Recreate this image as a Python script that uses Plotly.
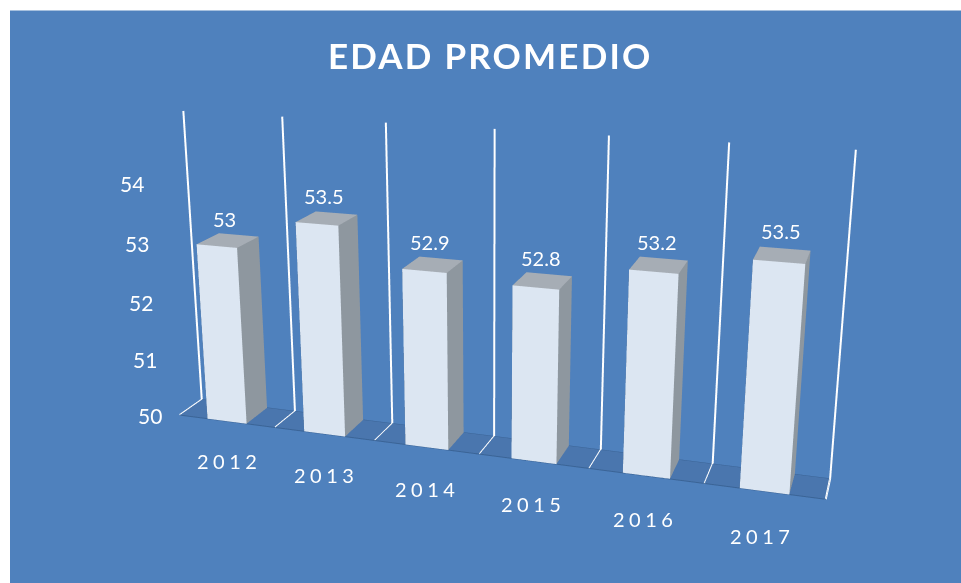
import plotly.graph_objects as go

years = ["2012", "2013", "2014", "2015", "2016", "2017"]
values = [53, 53.5, 52.9, 52.8, 53.2, 53.5]
z_ticks = [50, 51, 52, 53, 54]
Z0, Z1 = 50, 55
BG = "#4F81BD"
FRONT, SIDE, TOP, FLOOR, EDGE = "#DCE6F2", "#8E979F", "#A6ADB5", "#4A76AE", "#3A6496"

# big canvas: the window only shows the part around the scene centre (gives a long lens)
W, H = 2400, 1155
LEFT, TOP_PX = 487 - W / 2, 294 - H / 2
def px(x): return (x - LEFT) / W
def py(y): return 1 - (y - TOP_PX) / H

fig = go.Figure()

def box(x0, x1, y0, y1, z0, z1):
    X = [x0, x1, x1, x0, x0, x1, x1, x0]
    Y = [y0, y0, y1, y1, y0, y0, y1, y1]
    Z = [z0, z0, z0, z0, z1, z1, z1, z1]
    I = [0, 0, 1, 1, 4, 4, 0, 0, 3, 3, 2, 2]
    J = [1, 5, 2, 6, 5, 6, 3, 7, 2, 6, 3, 7]
    K = [5, 4, 6, 5, 6, 7, 7, 4, 6, 7, 7, 6]
    C = [FRONT, FRONT, SIDE, SIDE, TOP, TOP, SIDE, SIDE, SIDE, SIDE, SIDE, SIDE]
    return X, Y, Z, I, J, K, C

LIGHT = dict(ambient=1, diffuse=0, specular=0, roughness=1, fresnel=0)
fig.add_trace(go.Mesh3d(x=[0, 6, 6, 0], y=[0, 0, 1, 1], z=[Z0] * 4, i=[0, 0], j=[1, 2], k=[2, 3],
                        color=FLOOR, flatshading=True, lighting=LIGHT, hoverinfo="skip"))
for idx, v in enumerate(values):
    X, Y, Z, I, J, K, C = box(idx + 0.295, idx + 0.705, 0, 1, Z0, v)
    fig.add_trace(go.Mesh3d(x=X, y=Y, z=Z, i=I, j=J, k=K, facecolor=C, flatshading=True,
                            lighting=LIGHT, hoverinfo="skip"))
fig.add_trace(go.Scatter3d(x=[0, 6, None, 0, 6], y=[0, 0, None, 1, 1], z=[Z0, Z0, None, Z0, Z0], mode="lines",
                           line=dict(color=EDGE, width=2), hoverinfo="skip", showlegend=False))
for b in range(7):
    fig.add_trace(go.Scatter3d(x=[b, b, b], y=[0, 1, 1], z=[Z0, Z0, Z1], mode="lines",
                               line=dict(color="white", width=4), hoverinfo="skip", showlegend=False))

annotations = []
for idx, v in enumerate(values):
    annotations.append(dict(x=idx + 0.48, y=0.5, z=v + 0.35, text=str(v), showarrow=False,
                            font=dict(color="white", size=20)))
    annotations.append(dict(x=idx + 0.5, y=0, z=Z0 - 0.72,
                            text='<span style="letter-spacing:4.5px">%s</span>' % years[idx], showarrow=False,
                            font=dict(color="white", size=20)))
for t in z_ticks:
    annotations.append(dict(x=-0.33, y=0, z=t - 0.08, text=str(t), showarrow=False,
                            font=dict(color="white", size=21)))

hidden = dict(visible=False, showgrid=False, zeroline=False, showticklabels=False, showbackground=False)
d = 4.4
fig.update_layout(
    width=W, height=H, showlegend=False,
    paper_bgcolor="white",
    margin=dict(l=0, r=0, t=0, b=0),
    font=dict(family="Lato"),
    annotations=[dict(xref="paper", yref="paper", x=px(490), y=py(55), xanchor="center", yanchor="middle",
                      showarrow=False,
                      text='<b><span style="letter-spacing:2.2px">EDAD PROMEDIO</span></b>',
                      font=dict(size=35, color="white", family="Lato"))],
    shapes=[dict(type="rect", xref="paper", yref="paper", x0=px(10), x1=px(961), y0=py(583), y1=py(10),
                 fillcolor=BG, line=dict(width=0), layer="below")],
    scene=dict(
        domain=dict(x=[0, 1], y=[0, 1]),
        bgcolor="rgba(0,0,0,0)",
        xaxis=dict(range=[-1, 7], **hidden),
        yaxis=dict(range=[-1, 2], **hidden),
        zaxis=dict(range=[49, 56], **hidden),
        aspectmode="manual",
        aspectratio=dict(x=2.90, y=0.46, z=1.44),
        camera=dict(eye=dict(x=0.295 * d, y=-0.91 * d, z=0.292 * d), center=dict(x=0, y=0, z=0),
                    up=dict(x=0, y=0, z=1)),
        annotations=annotations,
    ),
)
post = ("document.documentElement.style.overflow='hidden';document.body.style.overflow='hidden';"
        "document.body.style.margin='0';var g=document.getElementById('{plot_id}');"
        "g.style.position='fixed';g.style.left='%dpx';g.style.top='%dpx';" % (LEFT, TOP_PX))
fig.write_html("out.html", post_script=post)
